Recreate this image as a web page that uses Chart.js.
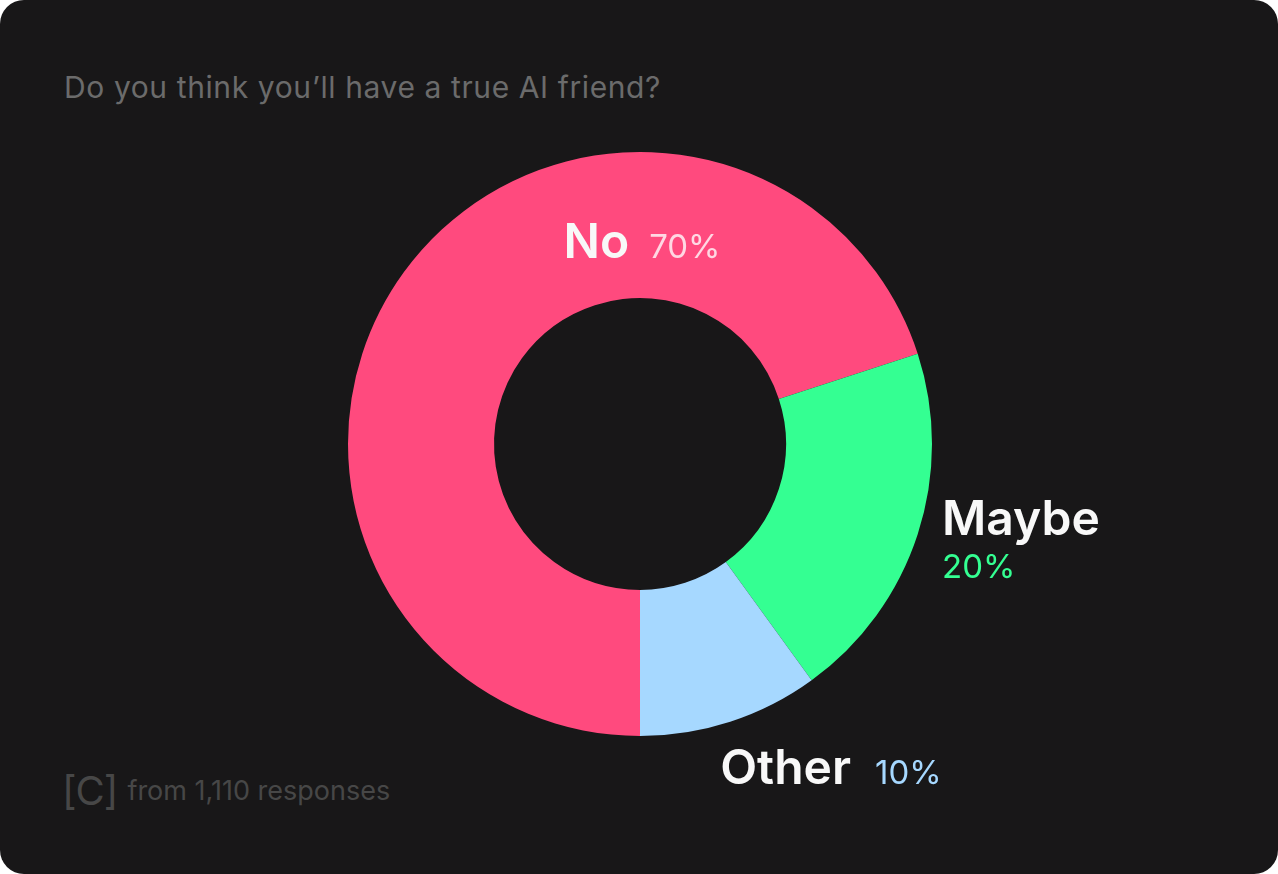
<!DOCTYPE html>
<html>
<head>
<meta charset="utf-8">
<script src="https://cdn.jsdelivr.net/npm/chart.js@4.4.1/dist/chart.umd.min.js"></script>
<style>
  html, body { margin: 0; padding: 0; background: #ffffff; }
  #card {
    position: relative; width: 1278px; height: 874px;
    background: #181718; border-radius: 24px; overflow: hidden;
    font-family: Inter, "Noto Sans", sans-serif;
  }
  #title {
    position: absolute; left: 64px; top: 69px;
    font-size: 30px; color: #6b6b6b; letter-spacing: 0.6px;
  }
  #footer {
    position: absolute; left: 62px; top: 766px;
    color: #474747; font-size: 27px; display: flex; align-items: center;
  }
  #footer .logo { font-size: 40px; font-weight: 400; margin-right: 10px; letter-spacing: -1px; }
  #chart { position: absolute; left: 0; top: 0; }
</style>
</head>
<body>
<div id="card">
  <div id="title">Do you think you’ll have a true AI friend?</div>
  <div id="footer"><span class="logo">[C]</span><span>from 1,110 responses</span></div>
  <canvas id="chart" width="1278" height="874"></canvas>
</div>
<script>
// chart data
const categories = ['No', 'Maybe', 'Other'];
const values = [70, 20, 10];
const percentLabels = ['70%', '20%', '10%'];
const sliceColors = ['#ff4a7e', '#34ff92', '#a6d8ff'];
const percentColors = ['rgba(255,255,255,0.78)', '#34ff92', '#a6d8ff'];

// draws the category + percent labels next to each slice
const sliceLabels = {
  id: 'sliceLabels',
  afterDatasetsDraw(chart) {
    const ctx = chart.ctx;
    const arcs = chart.getDatasetMeta(0).data;
    const cx = arcs[0].x, cy = arcs[0].y;
    const outer = arcs[0].outerRadius, inner = arcs[0].innerRadius;
    const midR = (outer + inner) / 2;
    ctx.save();
    ctx.textBaseline = 'alphabetic';

    function pair(i, x, y, gap, align, stacked) {
      ctx.font = '600 48px Inter';
      const w1 = ctx.measureText(categories[i]).width;
      ctx.font = '400 33px Inter';
      const w2 = ctx.measureText(percentLabels[i]).width;
      let start = x;
      if (align === 'center') start = x - (w1 + gap + w2) / 2;
      ctx.textAlign = 'left';
      ctx.font = '600 48px Inter';
      ctx.fillStyle = '#f8f8f8';
      ctx.fillText(categories[i], start, y);
      ctx.font = '400 33px Inter';
      ctx.fillStyle = percentColors[i];
      if (stacked) ctx.fillText(percentLabels[i], start, y + 43);
      else ctx.fillText(percentLabels[i], start + w1 + gap, y);
    }

    // No: top of the ring
    pair(0, cx + 2, cy - midR + 33, 20, 'center', false);
    // Maybe: right of the ring, percent below
    pair(1, cx + outer + 10, cy + 91, 0, 'left', true);
    // Other: below the ring
    const a = arcs[2];
    const mid = (a.startAngle + a.endAngle) / 2;
    pair(2, cx + outer * Math.cos(mid) - 10, cy + outer + 48, 24, 'left', false);
    ctx.restore();
  }
};

new Chart(document.getElementById('chart').getContext('2d'), {
  type: 'doughnut',
  data: {
    labels: categories,
    datasets: [{
      data: values,
      backgroundColor: sliceColors,
      borderWidth: 0
    }]
  },
  options: {
    responsive: false,
    animation: false,
    rotation: 180,
    cutout: '50%',
    layout: { padding: { left: 348, right: 346, top: 152, bottom: 138 } },
    plugins: {
      legend: { display: false },
      tooltip: { enabled: false }
    }
  },
  plugins: [sliceLabels]
});
</script>
</body>
</html>
